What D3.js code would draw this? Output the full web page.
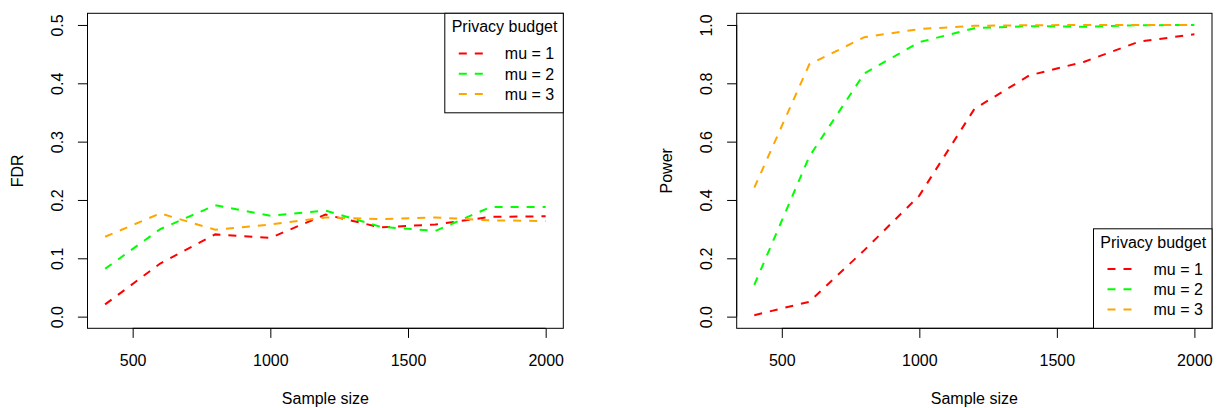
<!DOCTYPE html>
<html>
<head>
<meta charset="utf-8">
<script src="https://cdn.jsdelivr.net/npm/d3@7"></script>
<style>
  body { margin: 0; background: #fff; }
  svg { display: block; font-family: "Liberation Sans", Arial, sans-serif; }
</style>
</head>
<body>
<div id="wrapper"></div>
<script>
// 1. Data
const sampleSizes = [400, 600, 800, 1000, 1200, 1400, 1600, 1800, 2000]
const seriesNames = ["mu = 1", "mu = 2", "mu = 3"]
const seriesColors = ["#ff0000", "#00ff00", "#ffa500"]

const fdrMu1 = [0.021, 0.091, 0.141, 0.135, 0.175, 0.153, 0.158, 0.171, 0.172]
const fdrMu2 = [0.082, 0.150, 0.191, 0.173, 0.182, 0.154, 0.147, 0.188, 0.188]
const fdrMu3 = [0.137, 0.177, 0.149, 0.158, 0.170, 0.167, 0.170, 0.165, 0.164]

const powerMu1 = [0.005, 0.051, 0.228, 0.415, 0.712, 0.827, 0.874, 0.943, 0.968]
const powerMu2 = [0.109, 0.549, 0.834, 0.941, 0.989, 0.996, 0.994, 0.999, 1.000]
const powerMu3 = [0.442, 0.865, 0.958, 0.986, 0.997, 0.999, 1.000, 1.000, 1.000]

const xTicks = [500, 1000, 1500, 2000]
const fdrTicks = [0, 0.1, 0.2, 0.3, 0.4, 0.5]
const powerTicks = [0, 0.2, 0.4, 0.6, 0.8, 1.0]

// 2. Dimensions
const width = 1217
const height = 408
const fontSize = 16

const panels = [
  {
    yLabel: "FDR",
    series: [fdrMu1, fdrMu2, fdrMu3],
    yLim: [0, 0.5],
    yTicks: fdrTicks,
    box: { left: 87.5, right: 563.3, top: 13.3, bottom: 328.3 },
    legendCorner: "topright"
  },
  {
    yLabel: "Power",
    series: [powerMu1, powerMu2, powerMu3],
    yLim: [0, 1],
    yTicks: powerTicks,
    box: { left: 736.7, right: 1212, top: 13.3, bottom: 328.3 },
    legendCorner: "bottomright"
  }
]

// R style 4% axis expansion
const expand = ([a, b]) => {
  const pad = (b - a) * 0.04
  return [a - pad, b + pad]
}

// 3. Canvas
const svg = d3.select("#wrapper")
  .append("svg")
    .attr("width", width)
    .attr("height", height)

panels.forEach(panel => {
  const box = panel.box
  const g = svg.append("g")

  // 4. Scales
  const xScale = d3.scaleLinear()
    .domain(expand(d3.extent(sampleSizes)))
    .range([box.left, box.right])

  const yScale = d3.scaleLinear()
    .domain(expand(panel.yLim))
    .range([box.bottom, box.top])

  // 5. Lines
  const lineGenerator = d3.line()
    .x((d, i) => xScale(sampleSizes[i]))
    .y(d => yScale(d))

  panel.series.forEach((values, k) => {
    g.append("path")
      .datum(values)
      .attr("d", lineGenerator)
      .attr("fill", "none")
      .attr("stroke", seriesColors[k])
      .attr("stroke-width", 2)
      .attr("stroke-dasharray", "8,8")
  })

  // 6. Peripherals
  g.append("rect")
    .attr("x", box.left)
    .attr("y", box.top)
    .attr("width", box.right - box.left)
    .attr("height", box.bottom - box.top)
    .attr("fill", "none")
    .attr("stroke", "black")
    .attr("stroke-width", 1)

  const xAxis = g.append("g")
    .attr("transform", `translate(0, ${box.bottom})`)
    .call(d3.axisBottom(xScale)
      .tickValues(xTicks)
      .tickFormat(d3.format("d"))
      .tickSize(9.6)
      .tickSizeOuter(0)
      .tickPadding(16.4))
  xAxis.select(".domain")
    .attr("d", `M${xScale(xTicks[0])},0H${xScale(xTicks[xTicks.length - 1])}`)

  const yAxis = g.append("g")
    .attr("transform", `translate(${box.left}, 0)`)
    .call(d3.axisLeft(yScale)
      .tickValues(panel.yTicks)
      .tickFormat(d3.format(".1f"))
      .tickSize(9.6)
      .tickSizeOuter(0))
  yAxis.select(".domain")
    .attr("d", `M0,${yScale(panel.yTicks[0])}V${yScale(panel.yTicks[panel.yTicks.length - 1])}`)
  yAxis.selectAll(".tick text")
    .attr("x", null)
    .attr("dy", null)
    .attr("text-anchor", "middle")
    .attr("transform", "translate(-24.7, 0) rotate(-90)")

  ;[xAxis, yAxis].forEach(axis => {
    axis.attr("font-family", null).attr("font-size", fontSize)
    axis.selectAll("line, path").attr("stroke", "black")
    axis.selectAll("text").attr("fill", "black")
  })

  g.append("text")
    .attr("x", (box.left + box.right) / 2)
    .attr("y", 403.5)
    .attr("text-anchor", "middle")
    .attr("font-size", fontSize)
    .text("Sample size")

  g.append("text")
    .attr("transform", `translate(${box.left - 64.4}, ${(box.top + box.bottom) / 2}) rotate(-90)`)
    .attr("text-anchor", "middle")
    .attr("font-size", fontSize)
    .text(panel.yLabel)

  // 7. Legend
  const legendWidth = 118.5
  const legendHeight = 99.5
  const legendX = box.right - legendWidth
  const legendY = panel.legendCorner === "topright" ? box.top : box.bottom - legendHeight

  const legend = g.append("g")
    .attr("transform", `translate(${legendX}, ${legendY})`)

  legend.append("rect")
    .attr("width", legendWidth)
    .attr("height", legendHeight)
    .attr("fill", "white")
    .attr("stroke", "black")
    .attr("stroke-width", 1)

  legend.append("text")
    .attr("x", legendWidth / 2 + 0.5)
    .attr("y", 19.2)
    .attr("text-anchor", "middle")
    .attr("font-size", fontSize)
    .text("Privacy budget")

  const rows = legend.selectAll(".row")
    .data(seriesNames)
    .join("g")
      .attr("class", "row")
      .attr("transform", (d, i) => `translate(0, ${40.3 + i * 20.2})`)

  rows.append("line")
    .attr("x1", 14)
    .attr("x2", 39)
    .attr("stroke", (d, i) => seriesColors[i])
    .attr("stroke-width", 2)
    .attr("stroke-dasharray", "8,8")

  rows.append("text")
    .attr("x", 60)
    .attr("y", 5.7)
    .attr("font-size", fontSize)
    .text(d => d)
})
</script>
</body>
</html>
